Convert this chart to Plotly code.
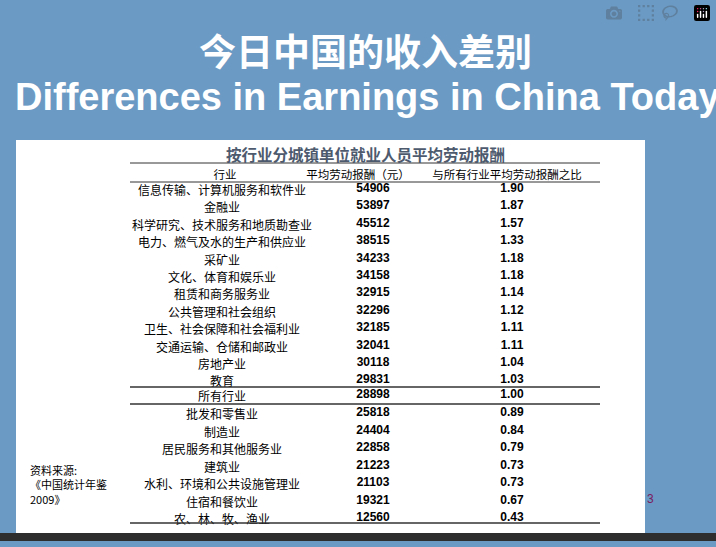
import plotly.graph_objects as go

industries_high = ["信息传输、计算机服务和软件业", "金融业", "科学研究、技术服务和地质勘查业",
                   "电力、燃气及水的生产和供应业", "采矿业", "文化、体育和娱乐业", "租赁和商务服务业",
                   "公共管理和社会组织", "卫生、社会保障和社会福利业", "交通运输、仓储和邮政业",
                   "房地产业", "教育"]
wages_high = [54906, 53897, 45512, 38515, 34233, 34158, 32915, 32296, 32185, 32041, 30118, 29831]
ratio_high = [1.90, 1.87, 1.57, 1.33, 1.18, 1.18, 1.14, 1.12, 1.11, 1.11, 1.04, 1.03]

industry_all = "所有行业"
wage_all = 28898
ratio_all = 1.00

industries_low = ["批发和零售业", "制造业", "居民服务和其他服务业", "建筑业",
                  "水利、环境和公共设施管理业", "住宿和餐饮业", "农、林、牧、渔业"]
wages_low = [25818, 24404, 22858, 21223, 21103, 19321, 12560]
ratio_low = [0.89, 0.84, 0.79, 0.73, 0.73, 0.67, 0.43]

header = ["行业", "平均劳动报酬（元）", "与所有行业平均劳动报酬之比"]

# layout in pixel-like coordinates
col_x = [222, 373, 512]
row_h = 17.4
y_high = [189 + row_h * i for i in range(len(industries_high))]
y_all = 395
y_low = [413 + 17.5 * i for i in range(len(industries_low))]

names = industries_high + [industry_all] + industries_low
wages = wages_high + [wage_all] + wages_low
ratios = ratio_high + [ratio_all] + ratio_low
ys = y_high + [y_all] + y_low

cjk = "Noto Sans CJK SC"
num_font = dict(family="Arial, Liberation Sans", size=12, color="black")
fig = go.Figure()
fig.add_trace(go.Scatter(x=[col_x[0]] * len(names), y=[y + 3 for y in ys], text=names, mode="text",
                         textfont=dict(family=cjk, size=12, color="black"), hoverinfo="skip"))
fig.add_trace(go.Scatter(x=[col_x[1]] * len(wages), y=ys, text=[f"<b>{w}</b>" for w in wages],
                         mode="text", textfont=num_font, hoverinfo="skip"))
fig.add_trace(go.Scatter(x=[col_x[2]] * len(ratios), y=ys, text=[f"<b>{r:.2f}</b>" for r in ratios],
                         mode="text", textfont=num_font, hoverinfo="skip"))
fig.add_trace(go.Scatter(x=[225, 358, 507], y=[176, 176, 176], text=header, mode="text",
                         textfont=dict(family=cjk, size=11.5, color="black"), hoverinfo="skip"))

shapes = [
    dict(type="rect", x0=16, x1=645, y0=140, y1=533, fillcolor="white", line_width=0, layer="below"),
    dict(type="rect", x0=0, x1=716, y0=533, y1=541, fillcolor="#2e2e2e", line_width=0, layer="below"),
]
for y, w in [(163, 1), (182, 1), (387, 1.5), (404, 1.5), (523, 1.5)]:
    shapes.append(dict(type="line", x0=130, x1=600, y0=y, y1=y, line=dict(color="#333", width=w)))

annotations = [
    dict(x=365, y=50, text="<b>今日中国的收入差别</b>", font=dict(family=cjk, size=37, color="white")),
    dict(x=13, y=97, text="<b>Differences in Earnings in China Today</b>", xanchor="left",
         font=dict(family="Arial, Liberation Sans", size=38, color="white")),
    dict(x=365, y=154, text="<b>按行业分城镇单位就业人员平均劳动报酬</b>",
         font=dict(family=cjk, size=15.5, color="#4d5a6e")),
    dict(x=28, y=484, xanchor="left", align="left", text="资料来源:<br>《中国统计年鉴<br>2009》",
         font=dict(family=cjk, size=11, color="black")),
    dict(x=650, y=499, text="3", font=dict(family="Arial", size=12, color="#7a2060")),
]
for a in annotations:
    a.update(xref="x", yref="y", showarrow=False)

fig.update_layout(
    width=716, height=547, margin=dict(l=0, r=0, t=0, b=0),
    paper_bgcolor="#6b9ac4", plot_bgcolor="#6b9ac4", showlegend=False,
    xaxis=dict(range=[0, 716], visible=False, fixedrange=True),
    yaxis=dict(range=[547, 0], visible=False, fixedrange=True),
    shapes=shapes, annotations=annotations,
)
fig.write_html("out.html", post_script="document.body.style.margin='0';document.body.style.background='#6b9ac4';")
